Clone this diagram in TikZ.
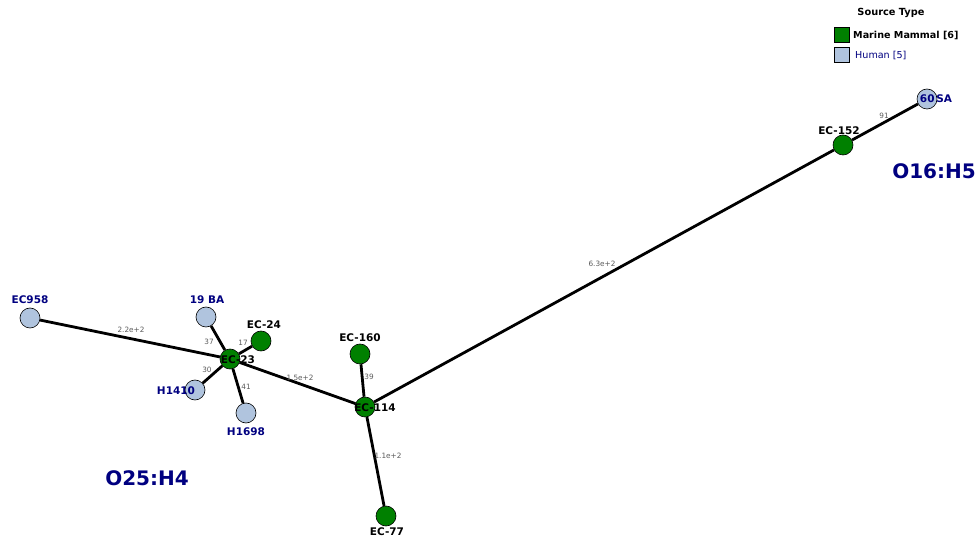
\documentclass[tikz,border=0pt]{standalone}
\usepackage{fontspec}
\setmainfont{DejaVu Sans}
\definecolor{mammal}{RGB}{0,128,0}
\definecolor{human}{RGB}{176,196,222}
\definecolor{navytxt}{RGB}{0,0,128}
\definecolor{edgetxt}{RGB}{90,90,90}
\tikzset{
  mnode/.style={circle,draw,fill=mammal,minimum size=20pt,inner sep=0pt,line width=0.6pt},
  hnode/.style={circle,draw,fill=human,minimum size=20pt,inner sep=0pt,line width=0.6pt},
  mlabel/.style={font=\fontsize{10.5}{12}\selectfont\bfseries,text=black,inner sep=0pt},
  hlabel/.style={font=\fontsize{10.5}{12}\selectfont\bfseries,text=navytxt,inner sep=0pt},
  dist/.style={font=\fontsize{7.3}{9}\selectfont,text=edgetxt,inner sep=0pt},
  link/.style={line width=2.8pt},
  group/.style={font=\fontsize{20}{24}\selectfont\bfseries,text=navytxt,inner sep=0pt}
}
\begin{document}
\begin{tikzpicture}[x=1pt,y=-1pt]
  \useasboundingbox (0,0) rectangle (978,537);

  \node (ec958) at (30,318) [hnode]{};
  \node (ba19) at (206,317) [hnode]{};
  \node (ec24) at (261,341) [mnode]{};
  \node (ec23) at (230,359) [mnode]{};
  \node (h1410) at (195,390) [hnode]{};
  \node (h1698) at (246,413) [hnode]{};
  \node (ec160) at (360,354) [mnode]{};
  \node (ec114) at (365,407) [mnode]{};
  \node (ec77) at (386,516) [mnode]{};
  \node (ec152) at (843,145) [mnode]{};
  \node (sa60) at (927,99) [hnode]{};

  \draw[link] (ec958) -- (ec23);
  \draw[link] (ba19) -- (ec23);
  \draw[link] (ec24) -- (ec23);
  \draw[link] (h1410) -- (ec23);
  \draw[link] (h1698) -- (ec23);
  \draw[link] (ec23) -- (ec114);
  \draw[link] (ec160) -- (ec114);
  \draw[link] (ec114) -- (ec77);
  \draw[link] (ec114) -- (ec152);
  \draw[link] (ec152) -- (sa60);

  % distances
  \node (d1) at (131,330) [dist]{2.2e+2};
  \node (d2) at (209,342) [dist]{37};
  \node (d3) at (243,343) [dist]{17};
  \node (d4) at (207,370) [dist]{30};
  \node (d5) at (246,387) [dist]{41};
  \node (d6) at (300,378) [dist]{1.5e+2};
  \node (d7) at (369,377) [dist]{39};
  \node (d8) at (388,456) [dist]{1.1e+2};
  \node (d9) at (602,264) [dist]{6.3e+2};
  \node (d10) at (884,116) [dist]{91};

  % names
  \node (n958) at (30,300) [hlabel]{EC958};
  \node (n19) at (207,300) [hlabel]{19 BA};
  \node (n24) at (264,325) [mlabel]{EC-24};
  \node (n23) at (238,360) [mlabel]{EC-23};
  \node (n1410) at (176,391) [hlabel]{H1410};
  \node (n1698) at (246,432) [hlabel]{H1698};
  \node (n160) at (360,338) [mlabel]{EC-160};
  \node (n114) at (375,408) [mlabel]{EC-114};
  \node (n77) at (387,532) [mlabel]{EC-77};
  \node (n152) at (839,131) [mlabel]{EC-152};
  \node (n60) at (936,99) [hlabel]{60\,SA};

  \node (o25) at (147,478) [group]{O25:H4};
  \node (o16) at (934,171) [group]{O16:H5};

  % legend
  \node (ltitle) at (891,13) [font=\fontsize{9.8}{11}\selectfont\bfseries]{Source Type};
  \node (lm) at (842,35) [draw,fill=mammal,minimum size=15pt,inner sep=0pt,line width=0.5pt]{};
  \node (lh) at (842,55) [draw,fill=human,minimum size=15pt,inner sep=0pt,line width=0.5pt]{};
  \node (lmt) at (853,35) [anchor=west,inner sep=0pt,font=\fontsize{9.6}{11}\selectfont\bfseries]{Marine Mammal [6]};
  \node (lht) at (855,55) [anchor=west,inner sep=0pt,text=navytxt,font=\fontsize{9.6}{11}\selectfont]{Human [5]};
\end{tikzpicture}
\end{document}
